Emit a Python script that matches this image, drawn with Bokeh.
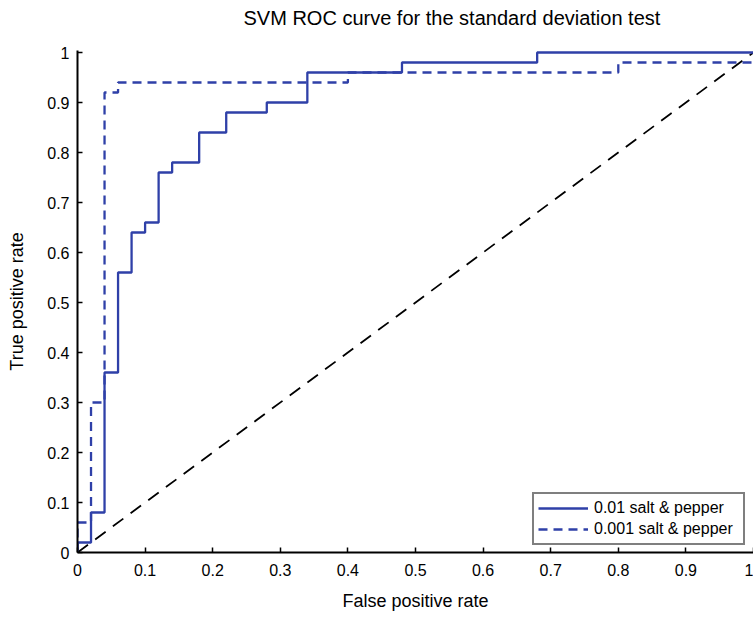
from bokeh.plotting import figure
from bokeh.models import Range1d, Legend, LegendItem, FixedTicker, Title
from bokeh.embed import file_html
from bokeh.resources import INLINE

# ROC curve vertices, 0.01 salt & pepper
fpr_01 = [0, 0, 0.02, 0.02, 0.04, 0.04, 0.06, 0.06, 0.08, 0.08, 0.10, 0.10, 0.12, 0.12,
          0.14, 0.14, 0.18, 0.18, 0.22, 0.22, 0.28, 0.28, 0.34, 0.34, 0.48, 0.48, 0.68, 0.68, 1.0]
tpr_01 = [0, 0.02, 0.02, 0.08, 0.08, 0.36, 0.36, 0.56, 0.56, 0.64, 0.64, 0.66, 0.66, 0.76,
          0.76, 0.78, 0.78, 0.84, 0.84, 0.88, 0.88, 0.90, 0.90, 0.96, 0.96, 0.98, 0.98, 1.0, 1.0]

# ROC curve vertices, 0.001 salt & pepper
fpr_001 = [0, 0, 0.02, 0.02, 0.04, 0.04, 0.06, 0.06, 0.40, 0.40, 0.80, 0.80, 1.0]
tpr_001 = [0, 0.06, 0.06, 0.30, 0.30, 0.92, 0.92, 0.94, 0.94, 0.96, 0.96, 0.98, 0.98]

# chance line
chance_x = [0, 1]
chance_y = [0, 1]

tick_values = [0, 0.1, 0.2, 0.3, 0.4, 0.5, 0.6, 0.7, 0.8, 0.9, 1]
tick_labels = ["0", "0.1", "0.2", "0.3", "0.4", "0.5", "0.6", "0.7", "0.8", "0.9", "1"]

series_labels = ["0.01 salt & pepper", "0.001 salt & pepper"]
title_text = "SVM ROC curve for the standard deviation test"
x_label = "False positive rate"
y_label = "True positive rate"

FONT = "Liberation Sans"
BLUE = "#2f40a8"

p = figure(width=753, height=617, output_backend="svg", toolbar_location=None,
           x_range=Range1d(0, 1), y_range=Range1d(0, 1.004),
           min_border_left=77, min_border_right=0, min_border_top=50, min_border_bottom=65)
p.outline_line_color = None
p.background_fill_color = "white"
p.border_fill_color = "white"
p.grid.visible = False

p.title.text = title_text
p.title.align = "left"
p.title.offset = 166
p.title.vertical_align = "bottom"
p.title.text_font = FONT
p.title.text_font_size = "20px"
p.title.text_font_style = "normal"
p.title.text_color = "black"
p.title.standoff = 0

# spacer between the frame and the title
spacer = Title(text=" ", text_font=FONT, text_font_size="10px", standoff=9)
p.add_layout(spacer, "above")

for ax in (p.xaxis[0], p.yaxis[0]):
    ax.ticker = FixedTicker(ticks=tick_values)
    ax.major_label_overrides = dict(zip(tick_values, tick_labels))
    ax.minor_tick_line_color = None
    ax.major_tick_in = 5
    ax.major_tick_out = 0
    ax.major_tick_line_width = 1.5
    ax.major_tick_line_color = "black"
    ax.axis_line_width = 2
    ax.axis_line_color = "black"
    ax.major_label_text_font = FONT
    ax.major_label_text_font_size = "16px"
    ax.major_label_text_color = "black"
    ax.axis_label_text_font = FONT
    ax.axis_label_text_font_size = "18px"
    ax.axis_label_text_font_style = "normal"
    ax.axis_label_text_color = "black"

p.xaxis.axis_label = x_label
p.yaxis.axis_label = y_label
p.xaxis.major_label_standoff = 11
p.yaxis.major_label_standoff = 8
p.xaxis.axis_label_standoff = 12
p.yaxis.axis_label_standoff = 17

r_chance = p.line(chance_x, chance_y, line_color="black", line_width=1.8, line_dash="13 9")
r1 = p.line(fpr_01, tpr_01, line_color=BLUE, line_width=2.3)
r2 = p.line(fpr_001, tpr_001, line_color=BLUE, line_width=2.3, line_dash="9 6")

legend = Legend(items=[LegendItem(label=series_labels[0], renderers=[r1]),
                       LegendItem(label=series_labels[1], renderers=[r2])],
                location=(455, 7))
legend.border_line_color = "black"
legend.border_line_width = 2
legend.background_fill_color = "white"
legend.background_fill_alpha = 1
legend.padding = 4
legend.spacing = 1
legend.margin = 0
legend.glyph_width = 50
legend.glyph_height = 20
legend.label_height = 20
legend.label_width = 145
legend.label_standoff = 6
legend.label_text_font = FONT
legend.label_text_font_size = "16px"
legend.label_text_color = "black"
p.add_layout(legend, "center")

open("out.html", "w").write(file_html(p, INLINE))
